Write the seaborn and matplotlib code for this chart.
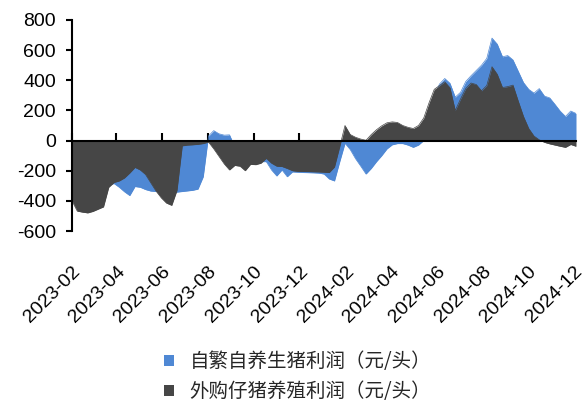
import matplotlib
matplotlib.use("Agg")
import matplotlib.pyplot as plt
import matplotlib.dates as mdates
import pandas as pd
import seaborn as sns

# weekly profit series, 2023-02 .. 2024-12
weeks = pd.date_range("2023-02-01", periods=97, freq="7D")

self_bred = [
    -380, -400, -410, -400, -390, -370, -330, -295, -285, -310,
    -340, -365, -305, -310, -325, -335, -338, -345, -348, -345,
    -342, -338, -334, -330, -322, -240, 30, 66, 45, 36,
    38, -40, -90, -125, -140, -145, -140, -140, -195, -235,
    -195, -240, -208, -210, -212, -213, -214, -216, -222, -255,
    -268, -140, -18, -60, -120, -170, -222, -185, -140, -100,
    -55, -28, -20, -20, -30, -45, -30, 0, 150, 300,
    375, 412, 380, 288, 320, 392, 430, 465, 500, 545,
    680, 640, 556, 564, 535, 460, 385, 340, 315, 345,
    295, 283, 240, 195, 160, 196, 180,
]

bought_piglet = [
    -400, -468, -475, -480, -470, -455, -440, -310, -278, -268,
    -248, -215, -178, -195, -225, -280, -335, -380, -415, -430,
    -330, -35, -30, -28, -25, -20, -10, -55, -105, -155,
    -195, -165, -170, -200, -158, -160, -150, -118, -150, -170,
    -172, -185, -200, -204, -205, -206, -207, -208, -210, -212,
    -175, -40, 100, 40, 22, 10, 2, 40, 72, 98,
    118, 124, 120, 100, 88, 80, 100, 150, 250, 340,
    365, 390, 350, 200, 275, 345, 382, 372, 330, 365,
    490, 440, 352, 358, 368, 262, 160, 80, 30, 5,
    -12, -22, -30, -38, -45, -26, -38,
]

labels = ["自繁自养生猪利润（元/头）", "外购仔猪养殖利润（元/头）"]
colors = ["#4f88d4", "#464646"]

df = pd.DataFrame({"date": weeks, labels[0]: self_bred, labels[1]: bought_piglet})

sns.set_theme(style="white")
plt.rcParams["font.family"] = ["Liberation Sans", "Noto Sans CJK SC"]
plt.rcParams["axes.unicode_minus"] = False

fig = plt.figure(figsize=(5.86, 4.05), dpi=100)
ax = fig.add_axes([72 / 586, 1 - 231 / 405, 504 / 586, 211 / 405])

z = 1.0
for name, color in zip(labels, colors):
    ax.fill_between(df["date"], 0, df[name], color=color, linewidth=0, label=name, zorder=z)
    sns.lineplot(data=df, x="date", y=name, ax=ax, color=color, linewidth=0.5,
                 legend=False, zorder=z + 0.1)
    z += 0.2

ax.set_xlabel("")
ax.set_ylabel("")
ax.set_ylim(-600, 800)
ax.set_yticks(range(-600, 801, 200))
ax.set_xlim(weeks[0], weeks[-1])
ax.xaxis.set_major_locator(mdates.MonthLocator(bymonth=[2, 4, 6, 8, 10, 12]))
ax.xaxis.set_major_formatter(mdates.DateFormatter("%Y-%m"))

sns.despine(ax=ax)
ax.spines["bottom"].set_position(("data", 0))
for s in ["left", "bottom"]:
    ax.spines[s].set_color("black")
    ax.spines[s].set_linewidth(1.5)

ax.tick_params(axis="y", left=True, direction="out", length=4.5, width=1.5,
               color="black", labelsize=14, pad=7, labelcolor="black")
ax.tick_params(axis="x", bottom=True, direction="in", length=5.5, width=1.5,
               color="black", labelsize=14, pad=88, labelcolor="black")
plt.setp(ax.get_xticklabels(), rotation=45, ha="right", rotation_mode="anchor")

handles, names = ax.get_legend_handles_labels()
fig.legend(handles, names, loc="center", bbox_to_anchor=(0.508, 0.07),
           frameon=False, prop={"family": ["Noto Sans CJK SC"], "size": 14},
           handlelength=0.5, handleheight=0.5, handletextpad=0.8,
           labelspacing=0.45)

fig.savefig("out.png", dpi=100)
